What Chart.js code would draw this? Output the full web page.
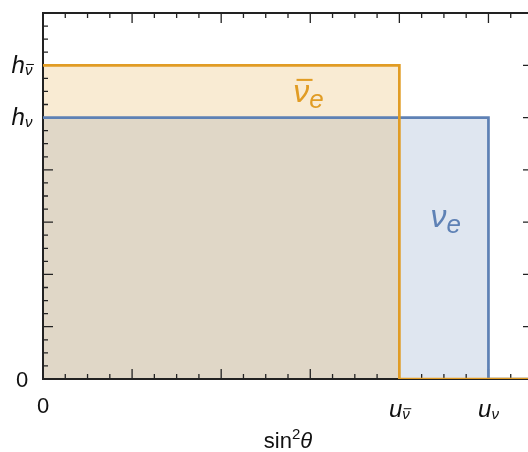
<!DOCTYPE html>
<html>
<head>
<meta charset="utf-8">
<script src="https://cdn.jsdelivr.net/npm/chart.js@4/dist/chart.umd.min.js"></script>
<style>
  html, body { margin: 0; padding: 0; background: #fff; overflow: hidden; }
  #wrap { width: 528px; height: 452px; overflow: hidden; }
</style>
</head>
<body>
<div id="wrap"><canvas id="chart" width="540" height="452"></canvas></div>
<script>
// two box spectra: height h up to the edge u, zero after it
const seriesNames = ['ν̄e', 'νe'];
const seriesEdges = [4, 5];     // u_ν̄, u_ν
const seriesHeights = [6, 5];   // h_ν̄, h_ν
const seriesColors = ['#E19C24', '#5E81B5'];
const xMax = 5.5;
const yMax = 7;
const xTickValues = [0, 4, 5];
const xTickLabels = [['0', ''], ['u', 'ν̄'], ['u', 'ν']];
const yTickValues = [0, 5, 6];
const yTickLabels = [['0', ''], ['h', 'ν'], ['h', 'ν̄']];

const FONT = '"Liberation Sans", Arial, sans-serif';
const BAR = '\u0304';

function fontOf(p) {
  return `${p.italic ? 'italic ' : ''}${p.size}px ${FONT}`;
}

// draws a run of text pieces (base, subscript, superscript) side by side
function drawRich(ctx, parts, x, y, align) {
  let w = 0;
  for (const p of parts) {
    ctx.font = fontOf(p);
    p.w = ctx.measureText(p.t.replace(BAR, '')).width;
    w += p.w;
  }
  let cx = align === 'center' ? x - w / 2 : align === 'right' ? x - w : x;
  ctx.textAlign = 'left';
  ctx.textBaseline = 'alphabetic';
  for (const p of parts) {
    const by = y + (p.dy || 0);
    ctx.font = fontOf(p);
    ctx.fillText(p.t.replace(BAR, ''), cx, by);
    if (p.t.includes(BAR)) {
      const th = Math.max(1, p.size * 0.065);
      ctx.fillRect(cx + p.size * 0.1, by - p.size * 0.72, p.w, th);
    }
    cx += p.w;
  }
}

function tickParts(lbl) {
  if (!lbl[1]) return [{ t: lbl[0], size: 22, italic: false }];
  return [
    { t: lbl[0], size: 24, italic: true },
    { t: lbl[1], size: 15, italic: true, dy: 2 },
  ];
}

const frame = {
  id: 'frame',
  beforeDatasetsDraw(chart) {
    const { ctx, chartArea: a, scales: { x, y } } = chart;
    ctx.save();
    ctx.strokeStyle = '#222';
    ctx.lineWidth = 1.3;
    ctx.beginPath();
    for (let i = 0; i <= xMax * 4; i++) {
      const px = x.getPixelForValue(i / 4);
      const len = i % 4 === 0 ? 10 : 5;
      ctx.moveTo(px, a.bottom); ctx.lineTo(px, a.bottom - len);
      ctx.moveTo(px, a.top); ctx.lineTo(px, a.top + len);
    }
    for (let i = 0; i <= yMax * 4; i++) {
      const py = y.getPixelForValue(i / 4);
      const len = i % 4 === 0 ? 10 : 5;
      ctx.moveTo(a.left, py); ctx.lineTo(a.left + len, py);
      ctx.moveTo(a.right, py); ctx.lineTo(a.right - len, py);
    }
    ctx.stroke();
    ctx.lineWidth = 2;
    ctx.strokeRect(a.left, a.top, a.right - a.left, a.bottom - a.top);
    ctx.restore();
  },
  afterDraw(chart) {
    const { ctx, chartArea: a, scales: { x, y } } = chart;
    ctx.save();
    ctx.fillStyle = '#111';
    yTickValues.forEach((v, i) => {
      drawRich(ctx, tickParts(yTickLabels[i]), a.left - 21, y.getPixelForValue(v) + 7.5, 'center');
    });
    xTickValues.forEach((v, i) => {
      const lbl = xTickLabels[i];
      const base = a.bottom + (lbl[1] ? 38 : 34);
      drawRich(ctx, tickParts(lbl), x.getPixelForValue(v), base, 'center');
    });
    // axis title
    drawRich(ctx, [
      { t: 'sin', size: 22, italic: false },
      { t: '2', size: 15, italic: false, dy: -9 },
      { t: 'θ', size: 22, italic: true },
    ], (a.left + a.right) / 2, a.bottom + 69, 'center');

    // series names inside the plot
    const spots = [[2.81, 5.3], [4.35, 2.9]];
    seriesNames.forEach((name, i) => {
      ctx.fillStyle = seriesColors[i];
      const nu = name.slice(0, -1);
      drawRich(ctx, [
        { t: nu, size: 32, italic: true },
        { t: 'e', size: 26, italic: true, dy: 6 },
      ], x.getPixelForValue(spots[i][0]), y.getPixelForValue(spots[i][1]), 'left');
    });
    ctx.restore();
  },
};

function stepPoints(i) {
  return [
    { x: 0, y: seriesHeights[i] },
    { x: seriesEdges[i], y: 0 },
    { x: xMax, y: 0 },
  ];
}

function fillOf(hex) {
  const n = parseInt(hex.slice(1), 16);
  return `rgba(${n >> 16},${(n >> 8) & 255},${n & 255},0.2)`;
}

new Chart(document.getElementById('chart'), {
  type: 'line',
  data: {
    datasets: seriesNames.map((name, i) => ({
      label: name,
      data: stepPoints(i),
      stepped: 'before',
      borderColor: seriesColors[i],
      backgroundColor: fillOf(seriesColors[i]),
      borderWidth: 2.7,
      borderJoinStyle: 'miter',
      pointRadius: 0,
      fill: 'origin',
    })),
  },
  options: {
    responsive: false,
    animation: false,
    events: [],
    layout: { padding: { left: 43, top: 13, right: 7, bottom: 73 } },
    plugins: {
      legend: { display: false },
      tooltip: { enabled: false },
      filler: { drawTime: 'beforeDatasetsDraw' },
    },
    scales: {
      x: { type: 'linear', min: 0, max: xMax, display: false },
      y: { type: 'linear', min: 0, max: yMax, display: false },
    },
  },
  plugins: [frame],
});
</script>
</body>
</html>
